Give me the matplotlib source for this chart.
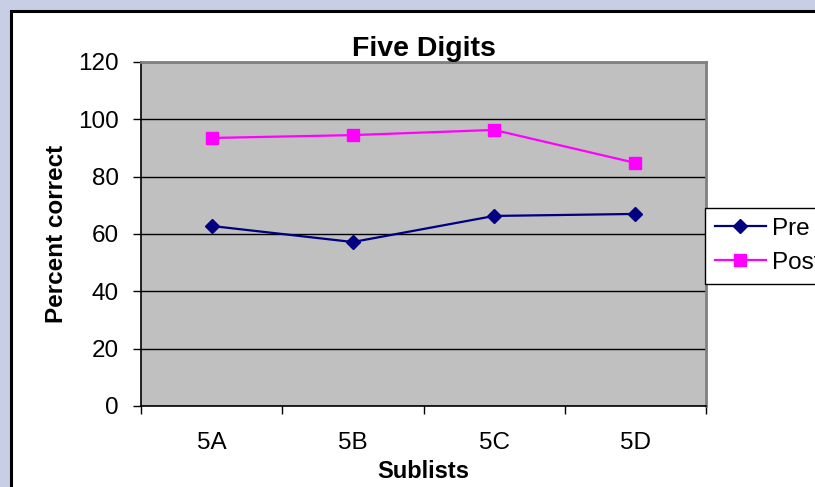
import matplotlib.pyplot as plt
from matplotlib.patches import Rectangle

plt.rcParams['font.family'] = ['Liberation Sans', 'DejaVu Sans']

sublists = ['5A', '5B', '5C', '5D']
pre = [62.8, 57.2, 66.3, 67.0]
post = [93.5, 94.5, 96.3, 84.8]
yticks = [0, 20, 40, 60, 80, 100, 120]

W, H = 815, 487
fig = plt.figure(figsize=(W / 100, H / 100), dpi=100)
fig.patch.set_facecolor('#c8cee6')

# white chart area with a black frame (runs off the right/bottom edge)
fig.patches.append(Rectangle((11 / W, -0.1), 1.2, (H - 11) / H + 0.1,
                             transform=fig.transFigure, facecolor='white',
                             edgecolor='black', linewidth=2.2, zorder=-5))

ax = fig.add_axes([141 / W, (H - 406) / H, (706 - 141) / W, (406 - 62) / H])
ax.set_facecolor('#c0c0c0')

x = list(range(len(sublists)))
ax.plot(x, pre, color='#000080', marker='D', markersize=7.2, linewidth=1.6,
        label='Pre', zorder=3)
ax.plot(x, post, color='#ff00ff', marker='s', markersize=8.4, linewidth=1.6,
        label='Post', zorder=3)

ax.set_xlim(-0.5, len(sublists) - 0.5)
ax.set_ylim(0, 120)
ax.set_yticks(yticks)
ax.yaxis.grid(True, color='black', linewidth=1.0)
ax.set_axisbelow(True)

ax.set_xticks(x)
ax.set_xticklabels(sublists)
ax.set_xticks([i - 0.5 for i in range(len(sublists) + 1)], minor=True)
ax.tick_params(axis='x', which='major', length=0, pad=19, labelsize=17.5)
ax.tick_params(axis='x', which='minor', length=6, width=1, color='black', direction='out')
ax.tick_params(axis='y', length=6, width=1, direction='out', pad=10, labelsize=17.5)

for side in ['top', 'right']:
    ax.spines[side].set_color('#808080')
    ax.spines[side].set_linewidth(2)
for side in ['left', 'bottom']:
    ax.spines[side].set_color('black')
    ax.spines[side].set_linewidth(1.2)

ax.set_title('Five Digits', fontsize=20.5, fontweight='bold', pad=4)
ax.set_xlabel('Sublists', fontsize=17, fontweight='bold', labelpad=4)
ax.set_ylabel('Percent correct', fontsize=17.5, fontweight='bold', labelpad=7)

leg = ax.legend(loc='upper left', bbox_to_anchor=(705 / W, 1 - 208 / H),
                bbox_transform=fig.transFigure, fontsize=17.5, frameon=True,
                fancybox=False, edgecolor='black', framealpha=1,
                handlelength=2.1, handletextpad=0.25, borderpad=0.4,
                labelspacing=0.5, borderaxespad=0)
leg.get_frame().set_linewidth(1.0)

fig.savefig('out.png', dpi=100)
